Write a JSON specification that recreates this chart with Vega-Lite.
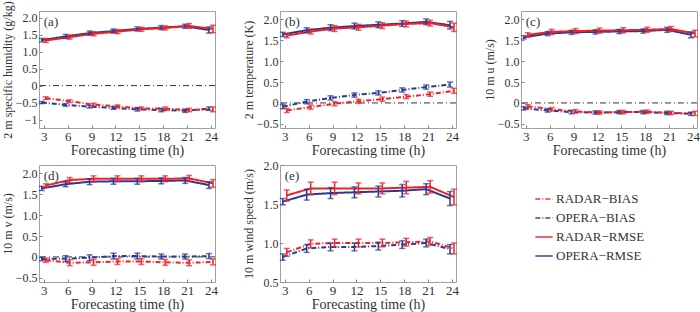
{
"$schema":"https://vega.github.io/schema/vega-lite/v6.json",
"padding":{"left":0,"top":0,"right":0,"bottom":0},
"background":"white",
"data":{"values":[
{"p":"a","t":3,"s":"RADAR−RMSE","v":1.33,"e":0.06},{"p":"a","t":6,"s":"RADAR−RMSE","v":1.43,"e":0.06},{"p":"a","t":9,"s":"RADAR−RMSE","v":1.53,"e":0.06},{"p":"a","t":12,"s":"RADAR−RMSE","v":1.59,"e":0.06},{"p":"a","t":15,"s":"RADAR−RMSE","v":1.66,"e":0.06},{"p":"a","t":18,"s":"RADAR−RMSE","v":1.70,"e":0.06},{"p":"a","t":21,"s":"RADAR−RMSE","v":1.76,"e":0.07},{"p":"a","t":24,"s":"RADAR−RMSE","v":1.67,"e":0.11},
{"p":"a","t":3,"s":"OPERA−RMSE","v":1.34,"e":0.05},{"p":"a","t":6,"s":"OPERA−RMSE","v":1.45,"e":0.06},{"p":"a","t":9,"s":"OPERA−RMSE","v":1.55,"e":0.06},{"p":"a","t":12,"s":"OPERA−RMSE","v":1.61,"e":0.06},{"p":"a","t":15,"s":"OPERA−RMSE","v":1.67,"e":0.06},{"p":"a","t":18,"s":"OPERA−RMSE","v":1.71,"e":0.06},{"p":"a","t":21,"s":"OPERA−RMSE","v":1.75,"e":0.06},{"p":"a","t":24,"s":"OPERA−RMSE","v":1.64,"e":0.09},
{"p":"a","t":3,"s":"RADAR−BIAS","v":-0.37,"e":0.04},{"p":"a","t":6,"s":"RADAR−BIAS","v":-0.46,"e":0.04},{"p":"a","t":9,"s":"RADAR−BIAS","v":-0.56,"e":0.04},{"p":"a","t":12,"s":"RADAR−BIAS","v":-0.61,"e":0.04},{"p":"a","t":15,"s":"RADAR−BIAS","v":-0.67,"e":0.04},{"p":"a","t":18,"s":"RADAR−BIAS","v":-0.68,"e":0.05},{"p":"a","t":21,"s":"RADAR−BIAS","v":-0.72,"e":0.05},{"p":"a","t":24,"s":"RADAR−BIAS","v":-0.70,"e":0.07},
{"p":"a","t":3,"s":"OPERA−BIAS","v":-0.50,"e":0.03},{"p":"a","t":6,"s":"OPERA−BIAS","v":-0.57,"e":0.04},{"p":"a","t":9,"s":"OPERA−BIAS","v":-0.62,"e":0.04},{"p":"a","t":12,"s":"OPERA−BIAS","v":-0.66,"e":0.04},{"p":"a","t":15,"s":"OPERA−BIAS","v":-0.70,"e":0.05},{"p":"a","t":18,"s":"OPERA−BIAS","v":-0.72,"e":0.05},{"p":"a","t":21,"s":"OPERA−BIAS","v":-0.74,"e":0.05},{"p":"a","t":24,"s":"OPERA−BIAS","v":-0.68,"e":0.05},
{"p":"b","t":3,"s":"RADAR−RMSE","v":1.61,"e":0.05},{"p":"b","t":6,"s":"RADAR−RMSE","v":1.71,"e":0.06},{"p":"b","t":9,"s":"RADAR−RMSE","v":1.78,"e":0.07},{"p":"b","t":12,"s":"RADAR−RMSE","v":1.81,"e":0.07},{"p":"b","t":15,"s":"RADAR−RMSE","v":1.85,"e":0.07},{"p":"b","t":18,"s":"RADAR−RMSE","v":1.89,"e":0.07},{"p":"b","t":21,"s":"RADAR−RMSE","v":1.91,"e":0.07},{"p":"b","t":24,"s":"RADAR−RMSE","v":1.81,"e":0.10},
{"p":"b","t":3,"s":"OPERA−RMSE","v":1.64,"e":0.05},{"p":"b","t":6,"s":"OPERA−RMSE","v":1.74,"e":0.06},{"p":"b","t":9,"s":"OPERA−RMSE","v":1.80,"e":0.07},{"p":"b","t":12,"s":"OPERA−RMSE","v":1.84,"e":0.07},{"p":"b","t":15,"s":"OPERA−RMSE","v":1.87,"e":0.07},{"p":"b","t":18,"s":"OPERA−RMSE","v":1.90,"e":0.07},{"p":"b","t":21,"s":"OPERA−RMSE","v":1.94,"e":0.07},{"p":"b","t":24,"s":"OPERA−RMSE","v":1.86,"e":0.09},
{"p":"b","t":3,"s":"RADAR−BIAS","v":-0.18,"e":0.05},{"p":"b","t":6,"s":"RADAR−BIAS","v":-0.10,"e":0.05},{"p":"b","t":9,"s":"RADAR−BIAS","v":-0.02,"e":0.05},{"p":"b","t":12,"s":"RADAR−BIAS","v":0.04,"e":0.05},{"p":"b","t":15,"s":"RADAR−BIAS","v":0.09,"e":0.05},{"p":"b","t":18,"s":"RADAR−BIAS","v":0.15,"e":0.05},{"p":"b","t":21,"s":"RADAR−BIAS","v":0.21,"e":0.05},{"p":"b","t":24,"s":"RADAR−BIAS","v":0.29,"e":0.06},
{"p":"b","t":3,"s":"OPERA−BIAS","v":-0.09,"e":0.05},{"p":"b","t":6,"s":"OPERA−BIAS","v":0.03,"e":0.05},{"p":"b","t":9,"s":"OPERA−BIAS","v":0.12,"e":0.05},{"p":"b","t":12,"s":"OPERA−BIAS","v":0.19,"e":0.05},{"p":"b","t":15,"s":"OPERA−BIAS","v":0.24,"e":0.05},{"p":"b","t":18,"s":"OPERA−BIAS","v":0.31,"e":0.05},{"p":"b","t":21,"s":"OPERA−BIAS","v":0.38,"e":0.05},{"p":"b","t":24,"s":"OPERA−BIAS","v":0.44,"e":0.06},
{"p":"c","t":3,"s":"RADAR−RMSE","v":1.63,"e":0.05},{"p":"c","t":6,"s":"RADAR−RMSE","v":1.70,"e":0.06},{"p":"c","t":9,"s":"RADAR−RMSE","v":1.72,"e":0.06},{"p":"c","t":12,"s":"RADAR−RMSE","v":1.73,"e":0.06},{"p":"c","t":15,"s":"RADAR−RMSE","v":1.74,"e":0.06},{"p":"c","t":18,"s":"RADAR−RMSE","v":1.75,"e":0.06},{"p":"c","t":21,"s":"RADAR−RMSE","v":1.77,"e":0.06},{"p":"c","t":24,"s":"RADAR−RMSE","v":1.66,"e":0.08},
{"p":"c","t":3,"s":"OPERA−RMSE","v":1.57,"e":0.04},{"p":"c","t":6,"s":"OPERA−RMSE","v":1.66,"e":0.05},{"p":"c","t":9,"s":"OPERA−RMSE","v":1.69,"e":0.05},{"p":"c","t":12,"s":"OPERA−RMSE","v":1.70,"e":0.05},{"p":"c","t":15,"s":"OPERA−RMSE","v":1.71,"e":0.05},{"p":"c","t":18,"s":"OPERA−RMSE","v":1.72,"e":0.05},{"p":"c","t":21,"s":"OPERA−RMSE","v":1.75,"e":0.06},{"p":"c","t":24,"s":"OPERA−RMSE","v":1.63,"e":0.07},
{"p":"c","t":3,"s":"RADAR−BIAS","v":-0.08,"e":0.04},{"p":"c","t":6,"s":"RADAR−BIAS","v":-0.15,"e":0.04},{"p":"c","t":9,"s":"RADAR−BIAS","v":-0.20,"e":0.04},{"p":"c","t":12,"s":"RADAR−BIAS","v":-0.23,"e":0.04},{"p":"c","t":15,"s":"RADAR−BIAS","v":-0.22,"e":0.04},{"p":"c","t":18,"s":"RADAR−BIAS","v":-0.21,"e":0.04},{"p":"c","t":21,"s":"RADAR−BIAS","v":-0.24,"e":0.04},{"p":"c","t":24,"s":"RADAR−BIAS","v":-0.25,"e":0.05},
{"p":"c","t":3,"s":"OPERA−BIAS","v":-0.13,"e":0.04},{"p":"c","t":6,"s":"OPERA−BIAS","v":-0.18,"e":0.04},{"p":"c","t":9,"s":"OPERA−BIAS","v":-0.22,"e":0.04},{"p":"c","t":12,"s":"OPERA−BIAS","v":-0.23,"e":0.04},{"p":"c","t":15,"s":"OPERA−BIAS","v":-0.22,"e":0.04},{"p":"c","t":18,"s":"OPERA−BIAS","v":-0.22,"e":0.04},{"p":"c","t":21,"s":"OPERA−BIAS","v":-0.24,"e":0.04},{"p":"c","t":24,"s":"OPERA−BIAS","v":-0.26,"e":0.04},
{"p":"d","t":3,"s":"RADAR−RMSE","v":1.71,"e":0.04},{"p":"d","t":6,"s":"RADAR−RMSE","v":1.84,"e":0.06},{"p":"d","t":9,"s":"RADAR−RMSE","v":1.87,"e":0.07},{"p":"d","t":12,"s":"RADAR−RMSE","v":1.87,"e":0.07},{"p":"d","t":15,"s":"RADAR−RMSE","v":1.87,"e":0.07},{"p":"d","t":18,"s":"RADAR−RMSE","v":1.87,"e":0.07},{"p":"d","t":21,"s":"RADAR−RMSE","v":1.88,"e":0.07},{"p":"d","t":24,"s":"RADAR−RMSE","v":1.76,"e":0.09},
{"p":"d","t":3,"s":"OPERA−RMSE","v":1.64,"e":0.05},{"p":"d","t":6,"s":"OPERA−RMSE","v":1.74,"e":0.06},{"p":"d","t":9,"s":"OPERA−RMSE","v":1.80,"e":0.07},{"p":"d","t":12,"s":"OPERA−RMSE","v":1.81,"e":0.07},{"p":"d","t":15,"s":"OPERA−RMSE","v":1.81,"e":0.07},{"p":"d","t":18,"s":"OPERA−RMSE","v":1.82,"e":0.07},{"p":"d","t":21,"s":"OPERA−RMSE","v":1.83,"e":0.07},{"p":"d","t":24,"s":"OPERA−RMSE","v":1.72,"e":0.08},
{"p":"d","t":3,"s":"RADAR−BIAS","v":-0.08,"e":0.05},{"p":"d","t":6,"s":"RADAR−BIAS","v":-0.14,"e":0.07},{"p":"d","t":9,"s":"RADAR−BIAS","v":-0.13,"e":0.07},{"p":"d","t":12,"s":"RADAR−BIAS","v":-0.11,"e":0.07},{"p":"d","t":15,"s":"RADAR−BIAS","v":-0.11,"e":0.07},{"p":"d","t":18,"s":"RADAR−BIAS","v":-0.13,"e":0.07},{"p":"d","t":21,"s":"RADAR−BIAS","v":-0.14,"e":0.07},{"p":"d","t":24,"s":"RADAR−BIAS","v":-0.12,"e":0.07},
{"p":"d","t":3,"s":"OPERA−BIAS","v":-0.05,"e":0.04},{"p":"d","t":6,"s":"OPERA−BIAS","v":-0.04,"e":0.07},{"p":"d","t":9,"s":"OPERA−BIAS","v":-0.02,"e":0.07},{"p":"d","t":12,"s":"OPERA−BIAS","v":0.02,"e":0.07},{"p":"d","t":15,"s":"OPERA−BIAS","v":0.02,"e":0.07},{"p":"d","t":18,"s":"OPERA−BIAS","v":0.01,"e":0.06},{"p":"d","t":21,"s":"OPERA−BIAS","v":0.01,"e":0.06},{"p":"d","t":24,"s":"OPERA−BIAS","v":0.02,"e":0.06},
{"p":"e","t":3,"s":"RADAR−RMSE","v":1.61,"e":0.07},{"p":"e","t":6,"s":"RADAR−RMSE","v":1.70,"e":0.08},{"p":"e","t":9,"s":"RADAR−RMSE","v":1.70,"e":0.08},{"p":"e","t":12,"s":"RADAR−RMSE","v":1.70,"e":0.07},{"p":"e","t":15,"s":"RADAR−RMSE","v":1.70,"e":0.07},{"p":"e","t":18,"s":"RADAR−RMSE","v":1.71,"e":0.08},{"p":"e","t":21,"s":"RADAR−RMSE","v":1.72,"e":0.08},{"p":"e","t":24,"s":"RADAR−RMSE","v":1.59,"e":0.10},
{"p":"e","t":3,"s":"OPERA−RMSE","v":1.53,"e":0.04},{"p":"e","t":6,"s":"OPERA−RMSE","v":1.62,"e":0.07},{"p":"e","t":9,"s":"OPERA−RMSE","v":1.64,"e":0.07},{"p":"e","t":12,"s":"OPERA−RMSE","v":1.65,"e":0.07},{"p":"e","t":15,"s":"OPERA−RMSE","v":1.66,"e":0.07},{"p":"e","t":18,"s":"OPERA−RMSE","v":1.67,"e":0.08},{"p":"e","t":21,"s":"OPERA−RMSE","v":1.69,"e":0.07},{"p":"e","t":24,"s":"OPERA−RMSE","v":1.57,"e":0.09},
{"p":"e","t":3,"s":"RADAR−BIAS","v":0.88,"e":0.05},{"p":"e","t":6,"s":"RADAR−BIAS","v":0.99,"e":0.05},{"p":"e","t":9,"s":"RADAR−BIAS","v":1.00,"e":0.05},{"p":"e","t":12,"s":"RADAR−BIAS","v":1.00,"e":0.05},{"p":"e","t":15,"s":"RADAR−BIAS","v":1.00,"e":0.05},{"p":"e","t":18,"s":"RADAR−BIAS","v":1.01,"e":0.05},{"p":"e","t":21,"s":"RADAR−BIAS","v":1.02,"e":0.05},{"p":"e","t":24,"s":"RADAR−BIAS","v":0.93,"e":0.07},
{"p":"e","t":3,"s":"OPERA−BIAS","v":0.82,"e":0.04},{"p":"e","t":6,"s":"OPERA−BIAS","v":0.93,"e":0.05},{"p":"e","t":9,"s":"OPERA−BIAS","v":0.95,"e":0.05},{"p":"e","t":12,"s":"OPERA−BIAS","v":0.95,"e":0.05},{"p":"e","t":15,"s":"OPERA−BIAS","v":0.96,"e":0.05},{"p":"e","t":18,"s":"OPERA−BIAS","v":0.98,"e":0.05},{"p":"e","t":21,"s":"OPERA−BIAS","v":1.00,"e":0.05},{"p":"e","t":24,"s":"OPERA−BIAS","v":0.92,"e":0.06}
]},
"vconcat":[
{"hconcat":[
{"width":176,"height":117,"layer":[
{"data":{"values":[{}]},"mark":{"type":"rule","color":"#333333","strokeWidth":1,"strokeDash":[6,3,1,3]},"encoding":{"y":{"datum":0,"type":"quantitative","title":"2 m specific humidity (g/kg)","scale":{"domain":[-1.25,2.2],"nice":false,"zero":false}}}},
{"transform":[{"filter":"datum.p=='a' && indexof(datum.s,'OPERA')==0"}],"mark":{"type":"line","strokeWidth":2,"xOffset":-2},"encoding":{"x":{"field":"t","type":"quantitative","title":"Forecasting time (h)","scale":{"domain":[2.4,24.5],"nice":false},"axis":{"values":[3,6,9,12,15,18,21,24],"tickCount":30,"labelOverlap":false,"labelFlush":false}},"y":{"field":"v","type":"quantitative","title":"2 m specific humidity (g/kg)","scale":{"domain":[-1.25,2.2],"nice":false,"zero":false},"axis":{"values":[-1,-0.5,0,0.5,1,1.5,2],"tickCount":30,"labelOverlap":false,"labelExpr":"datum.value==0?'0':(datum.value==-1?'−1':format(datum.value,'.1f'))"}},"color":{"field":"s","type":"nominal","title":null,"scale":{"domain":["RADAR−BIAS","OPERA−BIAS","RADAR−RMSE","OPERA−RMSE"],"range":["#ec2227","#2b3990","#ec2227","#2b3990"]}},"strokeDash":{"field":"s","type":"nominal","title":null,"scale":{"domain":["RADAR−BIAS","OPERA−BIAS","RADAR−RMSE","OPERA−RMSE"],"range":[[5,2,1,2],[5,2,1,2],[1,0],[1,0]]}}}},
{"transform":[{"filter":"datum.p=='a' && indexof(datum.s,'RADAR')==0"}],"mark":{"type":"line","strokeWidth":2,"xOffset":2},"encoding":{"x":{"field":"t","type":"quantitative","title":"Forecasting time (h)","scale":{"domain":[2.4,24.5],"nice":false}},"y":{"field":"v","type":"quantitative","title":"2 m specific humidity (g/kg)","scale":{"domain":[-1.25,2.2],"nice":false,"zero":false}},"color":{"field":"s","type":"nominal","title":null},"strokeDash":{"field":"s","type":"nominal","title":null}}},
{"transform":[{"filter":"datum.p=='a' && indexof(datum.s,'OPERA')==0"}],"mark":{"type":"errorbar","thickness":1.5,"ticks":{"size":6,"xOffset":-2},"rule":{"xOffset":-2}},"encoding":{"x":{"field":"t","type":"quantitative","title":"Forecasting time (h)","scale":{"domain":[2.4,24.5],"nice":false}},"y":{"field":"v","type":"quantitative","title":"2 m specific humidity (g/kg)","scale":{"domain":[-1.25,2.2],"nice":false,"zero":false}},"yError":{"field":"e"},"color":{"field":"s","type":"nominal","title":null}}},
{"transform":[{"filter":"datum.p=='a' && indexof(datum.s,'RADAR')==0"}],"mark":{"type":"errorbar","thickness":1.5,"ticks":{"size":6,"xOffset":2},"rule":{"xOffset":2}},"encoding":{"x":{"field":"t","type":"quantitative","title":"Forecasting time (h)","scale":{"domain":[2.4,24.5],"nice":false}},"y":{"field":"v","type":"quantitative","title":"2 m specific humidity (g/kg)","scale":{"domain":[-1.25,2.2],"nice":false,"zero":false}},"yError":{"field":"e"},"color":{"field":"s","type":"nominal","title":null}}},
{"data":{"values":[{"lab":"(a)"}]},"mark":{"type":"text","align":"left","baseline":"middle","fontSize":13,"font":"Liberation Serif","color":"#333333"},"encoding":{"x":{"datum":3.0,"type":"quantitative","title":"Forecasting time (h)","scale":{"domain":[2.4,24.5],"nice":false}},"y":{"datum":1.88,"type":"quantitative","title":"2 m specific humidity (g/kg)","scale":{"domain":[-1.25,2.2],"nice":false,"zero":false}},"text":{"field":"lab"}}}
]},
{"width":176,"height":117,"layer":[
{"data":{"values":[{}]},"mark":{"type":"rule","color":"#333333","strokeWidth":1,"strokeDash":[6,3,1,3]},"encoding":{"y":{"datum":0,"type":"quantitative","title":"2 m temperature (K)","scale":{"domain":[-0.6,2.2],"nice":false,"zero":false}}}},
{"transform":[{"filter":"datum.p=='b' && indexof(datum.s,'OPERA')==0"}],"mark":{"type":"line","strokeWidth":2,"xOffset":-2},"encoding":{"x":{"field":"t","type":"quantitative","title":"Forecasting time (h)","scale":{"domain":[2.4,24.5],"nice":false},"axis":{"values":[3,6,9,12,15,18,21,24],"tickCount":30,"labelOverlap":false,"labelFlush":false}},"y":{"field":"v","type":"quantitative","title":"2 m temperature (K)","scale":{"domain":[-0.6,2.2],"nice":false,"zero":false},"axis":{"values":[-0.5,0,0.5,1,1.5,2],"tickCount":30,"labelOverlap":false,"labelExpr":"datum.value==0?'0':format(datum.value,'.1f')"}},"color":{"field":"s","type":"nominal","title":null},"strokeDash":{"field":"s","type":"nominal","title":null}}},
{"transform":[{"filter":"datum.p=='b' && indexof(datum.s,'RADAR')==0"}],"mark":{"type":"line","strokeWidth":2,"xOffset":2},"encoding":{"x":{"field":"t","type":"quantitative","title":"Forecasting time (h)","scale":{"domain":[2.4,24.5],"nice":false}},"y":{"field":"v","type":"quantitative","title":"2 m temperature (K)","scale":{"domain":[-0.6,2.2],"nice":false,"zero":false}},"color":{"field":"s","type":"nominal","title":null},"strokeDash":{"field":"s","type":"nominal","title":null}}},
{"transform":[{"filter":"datum.p=='b' && indexof(datum.s,'OPERA')==0"}],"mark":{"type":"errorbar","thickness":1.5,"ticks":{"size":6,"xOffset":-2},"rule":{"xOffset":-2}},"encoding":{"x":{"field":"t","type":"quantitative","title":"Forecasting time (h)","scale":{"domain":[2.4,24.5],"nice":false}},"y":{"field":"v","type":"quantitative","title":"2 m temperature (K)","scale":{"domain":[-0.6,2.2],"nice":false,"zero":false}},"yError":{"field":"e"},"color":{"field":"s","type":"nominal","title":null}}},
{"transform":[{"filter":"datum.p=='b' && indexof(datum.s,'RADAR')==0"}],"mark":{"type":"errorbar","thickness":1.5,"ticks":{"size":6,"xOffset":2},"rule":{"xOffset":2}},"encoding":{"x":{"field":"t","type":"quantitative","title":"Forecasting time (h)","scale":{"domain":[2.4,24.5],"nice":false}},"y":{"field":"v","type":"quantitative","title":"2 m temperature (K)","scale":{"domain":[-0.6,2.2],"nice":false,"zero":false}},"yError":{"field":"e"},"color":{"field":"s","type":"nominal","title":null}}},
{"data":{"values":[{"lab":"(b)"}]},"mark":{"type":"text","align":"left","baseline":"middle","fontSize":13,"font":"Liberation Serif","color":"#333333"},"encoding":{"x":{"datum":3.0,"type":"quantitative","title":"Forecasting time (h)","scale":{"domain":[2.4,24.5],"nice":false}},"y":{"datum":1.94,"type":"quantitative","title":"2 m temperature (K)","scale":{"domain":[-0.6,2.2],"nice":false,"zero":false}},"text":{"field":"lab"}}}
]},
{"width":176,"height":117,"layer":[
{"data":{"values":[{}]},"mark":{"type":"rule","color":"#333333","strokeWidth":1,"strokeDash":[6,3,1,3]},"encoding":{"y":{"datum":0,"type":"quantitative","title":"10 m u (m/s)","scale":{"domain":[-0.6,2.2],"nice":false,"zero":false}}}},
{"transform":[{"filter":"datum.p=='c' && indexof(datum.s,'OPERA')==0"}],"mark":{"type":"line","strokeWidth":2,"xOffset":-2},"encoding":{"x":{"field":"t","type":"quantitative","title":"Forecasting time (h)","scale":{"domain":[2.4,24.5],"nice":false},"axis":{"values":[3,6,9,12,15,18,21,24],"tickCount":30,"labelOverlap":false,"labelFlush":false}},"y":{"field":"v","type":"quantitative","title":"10 m u (m/s)","scale":{"domain":[-0.6,2.2],"nice":false,"zero":false},"axis":{"values":[-0.5,0,0.5,1,1.5,2],"tickCount":30,"labelOverlap":false,"labelExpr":"datum.value==0?'0':format(datum.value,'.1f')"}},"color":{"field":"s","type":"nominal","title":null},"strokeDash":{"field":"s","type":"nominal","title":null}}},
{"transform":[{"filter":"datum.p=='c' && indexof(datum.s,'RADAR')==0"}],"mark":{"type":"line","strokeWidth":2,"xOffset":2},"encoding":{"x":{"field":"t","type":"quantitative","title":"Forecasting time (h)","scale":{"domain":[2.4,24.5],"nice":false}},"y":{"field":"v","type":"quantitative","title":"10 m u (m/s)","scale":{"domain":[-0.6,2.2],"nice":false,"zero":false}},"color":{"field":"s","type":"nominal","title":null},"strokeDash":{"field":"s","type":"nominal","title":null}}},
{"transform":[{"filter":"datum.p=='c' && indexof(datum.s,'OPERA')==0"}],"mark":{"type":"errorbar","thickness":1.5,"ticks":{"size":6,"xOffset":-2},"rule":{"xOffset":-2}},"encoding":{"x":{"field":"t","type":"quantitative","title":"Forecasting time (h)","scale":{"domain":[2.4,24.5],"nice":false}},"y":{"field":"v","type":"quantitative","title":"10 m u (m/s)","scale":{"domain":[-0.6,2.2],"nice":false,"zero":false}},"yError":{"field":"e"},"color":{"field":"s","type":"nominal","title":null}}},
{"transform":[{"filter":"datum.p=='c' && indexof(datum.s,'RADAR')==0"}],"mark":{"type":"errorbar","thickness":1.5,"ticks":{"size":6,"xOffset":2},"rule":{"xOffset":2}},"encoding":{"x":{"field":"t","type":"quantitative","title":"Forecasting time (h)","scale":{"domain":[2.4,24.5],"nice":false}},"y":{"field":"v","type":"quantitative","title":"10 m u (m/s)","scale":{"domain":[-0.6,2.2],"nice":false,"zero":false}},"yError":{"field":"e"},"color":{"field":"s","type":"nominal","title":null}}},
{"data":{"values":[{"lab":"(c)"}]},"mark":{"type":"text","align":"left","baseline":"middle","fontSize":13,"font":"Liberation Serif","color":"#333333"},"encoding":{"x":{"datum":3.0,"type":"quantitative","title":"Forecasting time (h)","scale":{"domain":[2.4,24.5],"nice":false}},"y":{"datum":1.94,"type":"quantitative","title":"10 m u (m/s)","scale":{"domain":[-0.6,2.2],"nice":false,"zero":false}},"text":{"field":"lab"}}}
]}
],"spacing":22},
{"hconcat":[
{"width":176,"height":117,"layer":[
{"data":{"values":[{}]},"mark":{"type":"rule","color":"#333333","strokeWidth":1,"strokeDash":[6,3,1,3]},"encoding":{"y":{"datum":0,"type":"quantitative","title":"10 m v (m/s)","scale":{"domain":[-0.6,2.2],"nice":false,"zero":false}}}},
{"transform":[{"filter":"datum.p=='d' && indexof(datum.s,'OPERA')==0"}],"mark":{"type":"line","strokeWidth":2,"xOffset":-2},"encoding":{"x":{"field":"t","type":"quantitative","title":"Forecasting time (h)","scale":{"domain":[2.4,24.5],"nice":false},"axis":{"values":[3,6,9,12,15,18,21,24],"tickCount":30,"labelOverlap":false,"labelFlush":false}},"y":{"field":"v","type":"quantitative","title":"10 m v (m/s)","scale":{"domain":[-0.6,2.2],"nice":false,"zero":false},"axis":{"values":[-0.5,0,0.5,1,1.5,2],"tickCount":30,"labelOverlap":false,"labelExpr":"datum.value==0?'0':format(datum.value,'.1f')"}},"color":{"field":"s","type":"nominal","title":null},"strokeDash":{"field":"s","type":"nominal","title":null}}},
{"transform":[{"filter":"datum.p=='d' && indexof(datum.s,'RADAR')==0"}],"mark":{"type":"line","strokeWidth":2,"xOffset":2},"encoding":{"x":{"field":"t","type":"quantitative","title":"Forecasting time (h)","scale":{"domain":[2.4,24.5],"nice":false}},"y":{"field":"v","type":"quantitative","title":"10 m v (m/s)","scale":{"domain":[-0.6,2.2],"nice":false,"zero":false}},"color":{"field":"s","type":"nominal","title":null},"strokeDash":{"field":"s","type":"nominal","title":null}}},
{"transform":[{"filter":"datum.p=='d' && indexof(datum.s,'OPERA')==0"}],"mark":{"type":"errorbar","thickness":1.5,"ticks":{"size":6,"xOffset":-2},"rule":{"xOffset":-2}},"encoding":{"x":{"field":"t","type":"quantitative","title":"Forecasting time (h)","scale":{"domain":[2.4,24.5],"nice":false}},"y":{"field":"v","type":"quantitative","title":"10 m v (m/s)","scale":{"domain":[-0.6,2.2],"nice":false,"zero":false}},"yError":{"field":"e"},"color":{"field":"s","type":"nominal","title":null}}},
{"transform":[{"filter":"datum.p=='d' && indexof(datum.s,'RADAR')==0"}],"mark":{"type":"errorbar","thickness":1.5,"ticks":{"size":6,"xOffset":2},"rule":{"xOffset":2}},"encoding":{"x":{"field":"t","type":"quantitative","title":"Forecasting time (h)","scale":{"domain":[2.4,24.5],"nice":false}},"y":{"field":"v","type":"quantitative","title":"10 m v (m/s)","scale":{"domain":[-0.6,2.2],"nice":false,"zero":false}},"yError":{"field":"e"},"color":{"field":"s","type":"nominal","title":null}}},
{"data":{"values":[{"lab":"(d)"}]},"mark":{"type":"text","align":"left","baseline":"middle","fontSize":13,"font":"Liberation Serif","color":"#333333"},"encoding":{"x":{"datum":3.0,"type":"quantitative","title":"Forecasting time (h)","scale":{"domain":[2.4,24.5],"nice":false}},"y":{"datum":1.94,"type":"quantitative","title":"10 m v (m/s)","scale":{"domain":[-0.6,2.2],"nice":false,"zero":false}},"text":{"field":"lab"}}}
]},
{"width":176,"height":117,"layer":[
{"transform":[{"filter":"datum.p=='e' && indexof(datum.s,'OPERA')==0"}],"mark":{"type":"line","strokeWidth":2,"xOffset":-2},"encoding":{"x":{"field":"t","type":"quantitative","title":"Forecasting time (h)","scale":{"domain":[2.4,24.5],"nice":false},"axis":{"values":[3,6,9,12,15,18,21,24],"tickCount":30,"labelOverlap":false,"labelFlush":false}},"y":{"field":"v","type":"quantitative","title":"10 m wind speed (m/s)","scale":{"domain":[0.5,2.0],"nice":false,"zero":false},"axis":{"values":[0.5,1,1.5,2],"tickCount":30,"labelOverlap":false,"format":".1f"}},"color":{"field":"s","type":"nominal","title":null},"strokeDash":{"field":"s","type":"nominal","title":null}}},
{"transform":[{"filter":"datum.p=='e' && indexof(datum.s,'RADAR')==0"}],"mark":{"type":"line","strokeWidth":2,"xOffset":2},"encoding":{"x":{"field":"t","type":"quantitative","title":"Forecasting time (h)","scale":{"domain":[2.4,24.5],"nice":false}},"y":{"field":"v","type":"quantitative","title":"10 m wind speed (m/s)","scale":{"domain":[0.5,2.0],"nice":false,"zero":false}},"color":{"field":"s","type":"nominal","title":null},"strokeDash":{"field":"s","type":"nominal","title":null}}},
{"transform":[{"filter":"datum.p=='e' && indexof(datum.s,'OPERA')==0"}],"mark":{"type":"errorbar","thickness":1.5,"ticks":{"size":6,"xOffset":-2},"rule":{"xOffset":-2}},"encoding":{"x":{"field":"t","type":"quantitative","title":"Forecasting time (h)","scale":{"domain":[2.4,24.5],"nice":false}},"y":{"field":"v","type":"quantitative","title":"10 m wind speed (m/s)","scale":{"domain":[0.5,2.0],"nice":false,"zero":false}},"yError":{"field":"e"},"color":{"field":"s","type":"nominal","title":null}}},
{"transform":[{"filter":"datum.p=='e' && indexof(datum.s,'RADAR')==0"}],"mark":{"type":"errorbar","thickness":1.5,"ticks":{"size":6,"xOffset":2},"rule":{"xOffset":2}},"encoding":{"x":{"field":"t","type":"quantitative","title":"Forecasting time (h)","scale":{"domain":[2.4,24.5],"nice":false}},"y":{"field":"v","type":"quantitative","title":"10 m wind speed (m/s)","scale":{"domain":[0.5,2.0],"nice":false,"zero":false}},"yError":{"field":"e"},"color":{"field":"s","type":"nominal","title":null}}},
{"data":{"values":[{"lab":"(e)"}]},"mark":{"type":"text","align":"left","baseline":"middle","fontSize":13,"font":"Liberation Serif","color":"#333333"},"encoding":{"x":{"datum":3.0,"type":"quantitative","title":"Forecasting time (h)","scale":{"domain":[2.4,24.5],"nice":false}},"y":{"datum":1.86,"type":"quantitative","title":"10 m wind speed (m/s)","scale":{"domain":[0.5,2.0],"nice":false,"zero":false}},"text":{"field":"lab"}}}
]}
],"spacing":22}
],
"spacing":0,
"config":{
"view":{"stroke":"#a0a0a0","strokeWidth":1},
"axis":{"labelFont":"Liberation Serif","titleFont":"Liberation Serif","labelFontSize":12,"titleFontSize":12,"titleFontWeight":"normal","labelColor":"#333333","titleColor":"#333333","grid":false,"domain":false,"tickColor":"#888888","tickSize":-3,"labelPadding":5,"labelOverlap":false},
"axisY":{"minExtent":21,"maxExtent":21,"titlePadding":4},
"axisX":{"titlePadding":0,"titleFontSize":14,"labelFontSize":13},
"legend":{"orient":"none","legendX":495,"legendY":178,"symbolType":"stroke","symbolSize":300,"symbolStrokeWidth":2,"labelFont":"Liberation Serif","labelFontSize":13,"labelColor":"#333333","rowPadding":2,"labelOffset":2}
}
}
